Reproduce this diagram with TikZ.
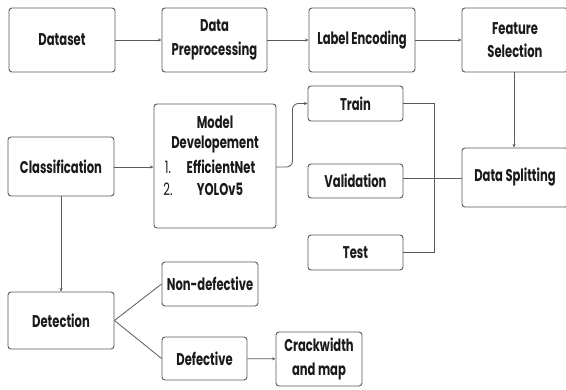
\documentclass[tikz,border=0pt]{standalone}
\usepackage{fontspec}
\setmainfont{Poppins}[FakeStretch=0.68]
\usetikzlibrary{arrows.meta}
\definecolor{edge}{HTML}{5A5A5A}
\definecolor{ink}{HTML}{1A1A1A}
\tikzset{
  x=1pt, y=-1pt,
  box/.style={draw=edge, line width=0.9pt, rounded corners=3pt, fill=white,
    inner sep=0pt, text=ink, font=\fontsize{17}{23.5}\selectfont\bfseries,
    align=center},
  lbl/.style={inner sep=0pt, text=ink, font=\fontsize{17}{23}\selectfont\bfseries},
  num/.style={inner sep=0pt, text=ink, font=\fontsize{17}{23}\selectfont},
  link/.style={draw=edge, line width=0.8pt},
  flow/.style={link, -{Stealth[length=3.5pt,width=3pt]}},
}
\begin{document}
\begin{tikzpicture}
\useasboundingbox[fill=white] (0,0) rectangle (566,389);
\begin{scope}
\clip (0,0) rectangle (566,389);
% top row
\node[box, minimum width=106pt, minimum height=64pt] (ds)  at (62,40)    {Dataset};
\node[box, minimum width=105pt, minimum height=64pt] (pre) at (214.5,40) {Data\\Preprocessing};
\node[box, minimum width=106pt, minimum height=64pt] (le)  at (362,40)   {Label Encoding};
\node[box, minimum width=106pt, minimum height=64pt] (fs)  at (515,40)   {Feature\\Selection};
% middle
\node[box, minimum width=106pt, minimum height=59pt] (cls) at (61,166.5) {Classification};
\node[box, minimum width=122pt, minimum height=124pt] (md) at (215,166) {};
\node[lbl] (mdA) at (215,122) {Model};
\node[lbl] (mdB) at (215,144) {Developement};
\node[num] (n1) at (168,167) {1.};
\node[lbl] (mdC) at (221,167) {EfficientNet};
\node[num] (n2) at (168,189) {2.};
\node[lbl] (mdD) at (220,189) {YOLOv5};
\node[box, minimum width=95pt, minimum height=35pt] (tr) at (355.5,103.5) {Train};
\node[box, minimum width=95pt, minimum height=34pt] (va) at (355.5,181)   {Validation};
\node[box, minimum width=95pt, minimum height=35pt] (te) at (355.5,252.5) {Test};
\node[box, minimum width=106pt, minimum height=59pt] (dsp) at (515,177.5) {Data Splitting};
% bottom
\node[box, minimum width=106pt, minimum height=57pt] (det) at (61,320.5) {Detection};
\node[box, minimum width=96pt, minimum height=44pt] (nd)  at (210,284)   {Non-defective};
\node[box, minimum width=85pt, minimum height=43pt] (def) at (204.5,358.5) {Defective};
\node[box, minimum width=86pt, minimum height=54pt] (cw)  at (319,359)   {Crackwidth\\and map};
% junction of the split lines
\coordinate (jt) at (434,103.5);
\coordinate (jb) at (434,252.5);
% connectors
\draw[flow] (ds) -- (pre);
\draw[flow] (pre) -- (le);
\draw[flow] (le) -- (fs);
\draw[flow] (fs.south -| 514,0) -- (dsp.north -| 514,0);
\draw[flow] (cls.east |- 0,167) -- (md.west |- 0,167);
\draw[flow, rounded corners=6pt] (md.east |- 0,167) -- ++(16,0) |- (tr.west);
\draw[link] (tr.east) -- (jt) -- (jb) -- (te.east);
\draw[link] (dsp.west |- 0,178) -- (va.east |- 0,178);
\draw[flow] (cls.south) -- (det.north);
\draw[link] (det.east) -- (nd.west);
\draw[link] (det.east) -- (def.west);
\draw[flow] (def) -- (cw);
\end{scope}
\end{tikzpicture}
\end{document}
